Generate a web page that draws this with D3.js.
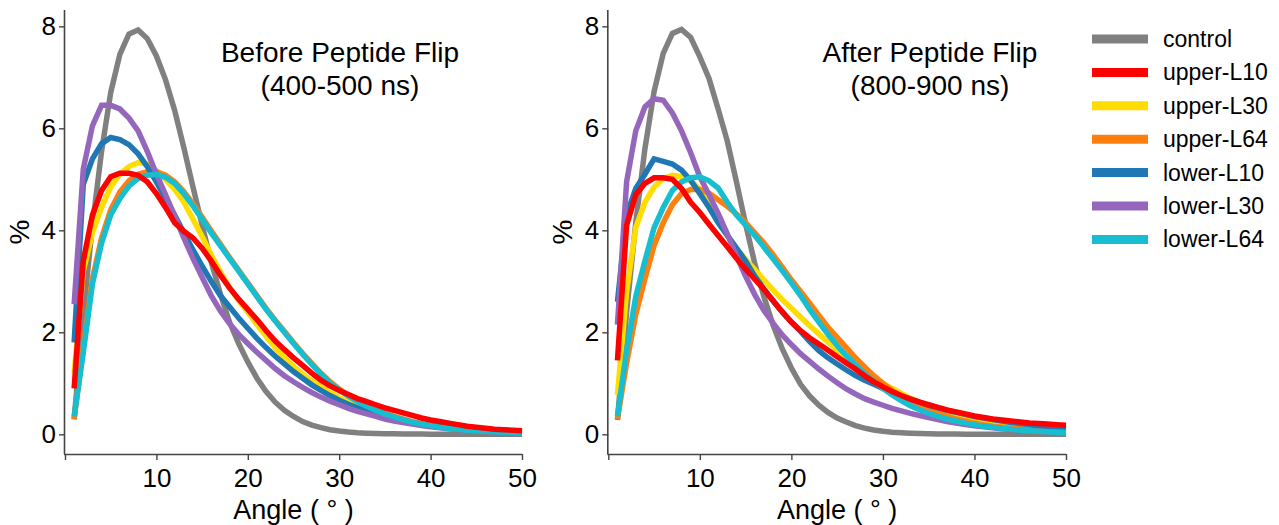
<!DOCTYPE html>
<html>
<head>
<meta charset="utf-8">
<script src="https://cdn.jsdelivr.net/npm/d3@7"></script>
<style>
  html, body { margin: 0; padding: 0; background: #ffffff; }
  svg { display: block; font-family: "Liberation Sans", Arial, Helvetica, sans-serif; }
</style>
</head>
<body>
<svg id="chart" width="1279" height="525"></svg>
<script>
// ---------------- data ----------------
const angles = d3.range(1, 51); // 1..50 degrees

const seriesNames = ["control", "upper-L10", "upper-L30", "upper-L64", "lower-L10", "lower-L30", "lower-L64"];
const seriesColors = ["#808080", "#ff0000", "#ffdd00", "#ff7f0e", "#1f77b4", "#9467bd", "#17becf"];

const panelTitles = [["Before Peptide Flip", "(400-500 ns)"], ["After Peptide Flip", "(800-900 ns)"]];
const xTicks = [0, 10, 20, 30, 40, 50];
const xTickLabels = ["", "10", "20", "30", "40", "50"];
const yTicks = [0, 2, 4, 6, 8];
const xLabel = "Angle ( ° )";
const yLabel = "%";

// Before (400-500 ns)
const beforeControl = [0.29,2.35,4.1,5.55,6.7,7.45,7.85,7.93,7.76,7.42,6.95,6.35,5.62,4.85,4.1,3.38,2.75,2.2,1.78,1.42,1.1,0.84,0.63,0.47,0.35,0.25,0.18,0.13,0.09,0.065,0.045,0.03,0.022,0.016,0.012,0.009,0.007,0.005,0.004,0.003,0.002,0.002,0.001,0.001,0.001,0.001,0.001,0,0,0];
const beforeUpperL10 = [0.9,3.4,4.3,4.78,5.05,5.12,5.12,5.08,4.95,4.72,4.45,4.15,3.98,3.85,3.65,3.4,3.12,2.87,2.65,2.45,2.25,2.03,1.83,1.66,1.5,1.35,1.2,1.06,0.95,0.86,0.78,0.7,0.64,0.58,0.52,0.47,0.42,0.37,0.32,0.28,0.25,0.22,0.19,0.16,0.14,0.12,0.1,0.09,0.08,0.07];
const beforeUpperL30 = [1.2,3.2,3.95,4.45,4.85,5.1,5.25,5.33,5.3,5.17,5.0,4.8,4.55,4.22,3.88,3.52,3.18,2.88,2.62,2.4,2.15,1.92,1.7,1.5,1.33,1.18,1.05,0.93,0.82,0.72,0.63,0.55,0.48,0.42,0.37,0.32,0.28,0.24,0.21,0.18,0.16,0.14,0.12,0.1,0.09,0.08,0.07,0.06,0.05,0.045];
const beforeUpperL64 = [0.3,1.7,3.05,3.85,4.4,4.75,4.97,5.1,5.15,5.15,5.08,4.95,4.76,4.52,4.26,3.99,3.73,3.47,3.22,2.97,2.72,2.47,2.24,2.02,1.8,1.59,1.39,1.2,1.03,0.89,0.76,0.65,0.56,0.48,0.41,0.35,0.3,0.25,0.21,0.18,0.15,0.13,0.11,0.09,0.08,0.07,0.06,0.05,0.045,0.04];
const beforeLowerL10 = [1.8,4.9,5.4,5.7,5.82,5.78,5.68,5.5,5.25,4.95,4.62,4.3,3.95,3.62,3.3,3.0,2.72,2.5,2.28,2.08,1.88,1.7,1.53,1.38,1.23,1.1,0.97,0.86,0.76,0.67,0.59,0.52,0.45,0.4,0.35,0.3,0.26,0.23,0.2,0.17,0.15,0.13,0.11,0.095,0.08,0.07,0.06,0.05,0.045,0.04];
const beforeLowerL30 = [2.55,5.2,6.05,6.45,6.45,6.38,6.2,5.95,5.55,5.1,4.7,4.28,3.85,3.45,3.08,2.72,2.42,2.17,1.96,1.78,1.61,1.45,1.29,1.15,1.03,0.92,0.82,0.73,0.65,0.58,0.51,0.45,0.4,0.35,0.3,0.26,0.23,0.2,0.17,0.15,0.13,0.11,0.095,0.08,0.07,0.06,0.05,0.04,0.035,0.03];
const beforeLowerL64 = [0.35,1.6,2.95,3.75,4.3,4.62,4.87,5.02,5.08,5.1,5.04,4.92,4.72,4.48,4.22,3.95,3.7,3.45,3.2,2.95,2.7,2.45,2.22,2.0,1.78,1.57,1.37,1.18,1.01,0.87,0.75,0.64,0.55,0.47,0.4,0.34,0.29,0.24,0.2,0.17,0.14,0.12,0.1,0.08,0.07,0.06,0.05,0.04,0.035,0.03];

// After (800-900 ns)
const afterControl = [0.28,2.4,4.15,5.6,6.72,7.47,7.86,7.94,7.78,7.4,6.98,6.38,5.75,4.95,4.12,3.35,2.7,2.14,1.68,1.3,0.98,0.75,0.57,0.43,0.32,0.24,0.17,0.12,0.085,0.06,0.042,0.03,0.021,0.015,0.011,0.008,0.006,0.004,0.003,0.002,0.002,0.001,0.001,0.001,0.001,0.001,0,0,0,0];
const afterUpperL10 = [1.45,4.1,4.7,4.92,5.03,5.03,5.0,4.82,4.55,4.35,4.12,3.9,3.68,3.45,3.24,3.04,2.84,2.62,2.4,2.2,2.03,1.89,1.77,1.65,1.52,1.4,1.28,1.15,1.03,0.93,0.84,0.76,0.69,0.63,0.58,0.53,0.48,0.44,0.4,0.36,0.33,0.3,0.28,0.26,0.24,0.22,0.21,0.2,0.19,0.18];
const afterUpperL30 = [0.77,2.8,4.05,4.55,4.85,5.02,5.08,5.05,4.97,4.8,4.5,4.18,3.9,3.65,3.43,3.23,3.03,2.83,2.64,2.47,2.3,2.13,1.97,1.81,1.65,1.5,1.37,1.24,1.12,1.0,0.9,0.8,0.71,0.63,0.56,0.5,0.44,0.39,0.35,0.31,0.28,0.25,0.22,0.2,0.18,0.16,0.14,0.13,0.12,0.11];
const afterUpperL64 = [0.3,1.4,2.35,3.05,3.7,4.15,4.5,4.72,4.8,4.8,4.73,4.6,4.47,4.32,4.15,3.95,3.75,3.52,3.28,3.03,2.8,2.57,2.33,2.1,1.9,1.7,1.5,1.32,1.15,1.0,0.86,0.74,0.64,0.55,0.47,0.41,0.35,0.3,0.26,0.22,0.19,0.16,0.14,0.12,0.11,0.1,0.09,0.08,0.07,0.06];
const afterLowerL10 = [2.6,4.3,4.82,5.1,5.4,5.35,5.3,5.18,4.98,4.72,4.45,4.15,3.9,3.65,3.4,3.1,2.85,2.62,2.4,2.2,2.02,1.82,1.64,1.5,1.38,1.26,1.15,1.06,0.98,0.9,0.82,0.75,0.69,0.63,0.57,0.52,0.47,0.43,0.39,0.35,0.32,0.29,0.26,0.23,0.21,0.19,0.17,0.15,0.13,0.12];
const afterLowerL30 = [2.15,4.95,5.95,6.42,6.58,6.55,6.3,5.95,5.52,5.05,4.7,4.33,3.93,3.5,3.1,2.74,2.43,2.18,1.95,1.76,1.58,1.43,1.28,1.14,1.01,0.89,0.79,0.7,0.63,0.57,0.51,0.46,0.41,0.37,0.33,0.29,0.25,0.22,0.19,0.17,0.15,0.13,0.11,0.095,0.08,0.07,0.06,0.05,0.045,0.04];
const afterLowerL64 = [0.35,1.65,2.7,3.4,4.05,4.45,4.78,4.95,5.03,5.05,4.97,4.83,4.55,4.3,4.1,3.9,3.67,3.44,3.21,2.97,2.72,2.45,2.2,1.96,1.74,1.54,1.36,1.19,1.04,0.9,0.77,0.66,0.56,0.48,0.41,0.35,0.3,0.26,0.22,0.19,0.16,0.14,0.12,0.1,0.08,0.07,0.06,0.05,0.04,0.03];

const panelSeries = [
  [beforeControl, beforeUpperL10, beforeUpperL30, beforeUpperL64, beforeLowerL10, beforeLowerL30, beforeLowerL64],
  [afterControl, afterUpperL10, afterUpperL30, afterUpperL64, afterLowerL10, afterLowerL30, afterLowerL64]
];

// ---------------- layout ----------------
const svg = d3.select("#chart");
const FONT = "'Liberation Sans', Arial, Helvetica, sans-serif";
const axisColor = "#444444";

const panels = [
  { x0: 65, x1: 522, titleX: 340 },
  { x0: 608.3, x1: 1066, titleX: 930 }
];
const yTop = 10, yBottom = 454;
const drawOrder = [0, 2, 3, 4, 5, 6, 1]; // red drawn on top

panels.forEach((p, pi) => {
  const x = d3.scaleLinear().domain([0, 50]).range([p.x0, p.x1]);
  const y = d3.scaleLinear().domain([-0.386, 8.32]).range([yBottom, yTop]);

  const line = d3.line()
    .x((d, i) => x(angles[i]))
    .y(d => y(d));

  const g = svg.append("g");

  drawOrder.forEach(si => {
    g.append("path")
      .datum(panelSeries[pi][si])
      .attr("fill", "none")
      .attr("stroke", seriesColors[si])
      .attr("stroke-width", 5.5)
      .attr("stroke-linejoin", "miter")
      .attr("d", line);
  });

  // y axis
  const yAxis = d3.axisLeft(y).tickValues(yTicks).tickSize(6).tickPadding(3).tickFormat(d3.format("d"));
  const ya = svg.append("g").attr("transform", `translate(${p.x0},0)`).call(yAxis);
  ya.select(".domain").attr("stroke", axisColor).attr("stroke-width", 1.6).attr("d", `M-0.5,${yTop}V${yBottom}`);
  ya.selectAll(".tick line").attr("stroke", axisColor).attr("stroke-width", 1.4);
  ya.selectAll(".tick text").attr("font-size", 26).attr("font-family", FONT).attr("fill", "#000");

  // x axis
  const xAxis = d3.axisBottom(x).tickValues(xTicks).tickSize(6).tickPadding(9)
    .tickFormat((d, i) => xTickLabels[i]);
  const xa = svg.append("g").attr("transform", `translate(0,${yBottom})`).call(xAxis);
  xa.select(".domain").attr("stroke", axisColor).attr("stroke-width", 1.6).attr("d", `M${p.x0 - 1},0.5H${p.x1}`);
  xa.selectAll(".tick line").attr("stroke", axisColor).attr("stroke-width", 1.4);
  xa.selectAll(".tick text").attr("font-size", 26).attr("font-family", FONT).attr("fill", "#000");

  // axis labels
  svg.append("text")
    .attr("x", (p.x0 + p.x1) / 2).attr("y", 519)
    .attr("text-anchor", "middle")
    .attr("font-size", 27).attr("font-family", FONT)
    .text(xLabel);
  svg.append("text")
    .attr("transform", `translate(${p.x0 - 36},232) rotate(-90)`)
    .attr("text-anchor", "middle")
    .attr("font-size", 28).attr("font-family", FONT)
    .text(yLabel);

  // title
  panelTitles[pi].forEach((t, li) => {
    svg.append("text")
      .attr("x", p.titleX).attr("y", 62 + li * 33)
      .attr("text-anchor", "middle")
      .attr("font-size", 28).attr("font-family", FONT)
      .text(t);
  });
});

// legend
const legend = svg.append("g");
seriesNames.forEach((name, i) => {
  const cy = 39 + i * 33.4;
  legend.append("line")
    .attr("x1", 1092).attr("x2", 1148).attr("y1", cy).attr("y2", cy)
    .attr("stroke", seriesColors[i]).attr("stroke-width", 9);
  legend.append("text")
    .attr("x", 1163).attr("y", cy).attr("dy", "0.35em")
    .attr("font-size", 23).attr("font-family", FONT)
    .text(name);
});
</script>
</body>
</html>
